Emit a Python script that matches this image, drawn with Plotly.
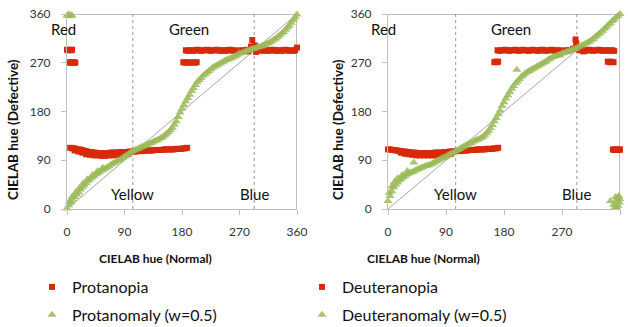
import plotly.graph_objects as go

# ---------------- data ----------------
TICKS = [0, 90, 180, 270, 360]
YELLOW_L, BLUE_L = 103, 293
YELLOW_R, BLUE_R = 105, 293

# Left panel: Protanopia (red squares)
prot_x = [0, 2, 4, 6, 8,
          3, 5, 7, 9, 11, 13,
          5, 8, 11, 14, 17, 20, 23, 26, 29, 32, 35, 38, 41, 44, 47, 50, 53, 56, 59, 62, 65, 68, 71, 74, 77, 80,
          83, 86, 89, 92, 95, 98, 101, 104, 107, 110, 113, 116, 119, 122, 125, 128, 131, 134, 137, 140, 143,
          146, 149, 152, 155, 158, 161, 164, 167, 170, 173, 176, 179, 182, 185, 188,
          12, 18, 24, 30, 36, 42, 48, 54, 60, 66, 72, 78, 84, 90, 96,
          182, 185, 188, 191, 197, 200, 203,
          186, 189, 192, 195, 198, 201, 204, 207, 210, 213, 216, 219, 222, 225, 228, 231, 234, 237, 240, 243,
          246, 249, 252, 255, 258, 261, 264, 273, 276, 279, 282, 303, 306, 309, 312, 315, 318, 321, 324, 327,
          330, 333, 336, 339, 342, 345, 348, 351, 354, 357, 360,
          284, 288, 290, 292, 294, 296, 298, 300]
prot_y = [294, 293, 294, 293, 294,
          271, 270, 271, 270, 271, 270,
          113, 112, 112, 111, 110, 110, 109, 108, 107, 106, 105, 105, 104, 104, 103, 103, 103, 103, 103, 103, 103,
          104, 104, 104, 104, 104, 105, 105, 105, 105, 105, 106, 106, 106, 106, 107, 107, 107, 107, 108, 108,
          108, 108, 108, 109, 109, 109, 109, 109, 110, 110, 110, 110, 110, 110, 111, 111, 111, 111, 112, 112, 113,
          108, 106, 104, 101, 100, 99, 99, 98, 98, 99, 99, 100, 100, 101, 102,
          271, 270, 271, 270, 271, 270, 271,
          293, 292, 293, 293, 292, 293, 294, 293, 292, 293, 293, 294, 293, 292, 293, 293, 294, 293, 292, 293,
          293, 292, 293, 294, 293, 292, 293, 293, 292, 293, 294, 293, 292, 293, 293, 292, 293, 294, 293,
          292, 293, 293, 292, 293, 294, 293, 292, 293, 292, 293,
          298, 291, 300, 312, 296, 302, 290, 297]

# Left panel: Protanomaly w=0.5 (green triangles)
pana_x = [0, 3, 6, 9, 12, 15, 18, 21, 24, 27, 30, 33, 36, 39, 42, 45, 48, 51, 54, 57, 60, 63, 66, 69, 72, 75,
          78, 81, 84, 87, 90, 93, 96, 99, 102, 105, 108, 111, 114, 117, 120, 123, 126, 129, 132, 135, 138, 141,
          144, 147, 150, 153, 156, 159, 162, 165, 168, 171, 174, 177, 180, 183, 186, 189, 192, 195, 198, 201,
          204, 207, 210, 213, 216, 219, 222, 225, 228, 231, 234, 237, 240, 243, 246, 249, 252, 255, 258, 261,
          264, 267, 270, 273, 276, 279, 282, 285, 288, 291, 294, 297, 300, 303, 306, 309, 312, 315, 318, 321,
          324, 327, 330, 333, 336, 339, 342, 345, 348, 351, 354, 357, 360,
          4, 8, 13, 19, 25, 32, 40, 48, 56,
          0, 2, 4, 6, 8]
pana_y = [1, 7, 12, 17, 22, 27, 31, 36, 40, 44, 48, 52, 55, 58, 61, 64, 66, 69, 71, 73, 75, 77, 79, 82, 84, 86,
          88, 90, 92, 94, 97, 99, 101, 104, 106, 108, 110, 111, 113, 115, 116, 118, 119, 121, 122, 124, 126, 127,
          129, 131, 133, 136, 139, 142, 146, 150, 156, 162, 170, 178, 185, 192, 199, 205, 211, 218, 223, 229,
          234, 238, 242, 246, 249, 252, 255, 258, 261, 263, 265, 267, 269, 271, 273, 275, 276, 278, 279, 281,
          283, 285, 287, 288, 289, 291, 292, 293, 295, 296, 297, 298, 299, 300, 301, 303, 305, 306, 308, 310,
          313, 315, 318, 321, 324, 327, 331, 335, 339, 344, 349, 354, 359,
          14, 22, 30, 38, 47, 55, 63, 70, 76,
          357, 359, 356, 358, 357]

# Right panel: Deuteranopia (red squares)
deut_x = [0, 3, 6, 9, 12, 15, 18, 21, 24, 27, 30, 33, 36, 39, 42, 45, 48, 51, 54, 57, 60, 63, 66, 69, 72, 75,
          78, 81, 84, 87, 90, 93, 96, 99, 102, 105, 108, 111, 114, 117, 120, 123, 126, 129, 132, 135, 138, 141,
          144, 147, 150, 153, 156, 159, 162, 165, 168, 171,
          20, 26, 32, 38, 44, 50, 56, 62, 68, 74, 80, 86, 92, 98,
          165, 167, 169, 171,
          170, 173, 176, 179, 182, 185, 188, 191, 194, 197, 200, 203, 206, 209, 212, 215, 218, 221, 224, 227,
          230, 233, 236, 239, 242, 245, 248, 251, 254, 257, 260, 263, 266, 275, 278, 281, 303, 306, 309, 312,
          315, 318, 321, 324, 327, 330, 333, 336, 339, 342, 345, 348, 351,
          291, 292, 295, 297, 300, 303, 287,
          341, 344, 347, 350,
          349, 351, 353, 355, 357, 359, 360]
deut_y = [110, 110, 109, 109, 108, 108, 107, 107, 106, 106, 105, 105, 104, 104, 104, 103, 103, 103, 103, 103,
          103, 103, 103, 103, 104, 104, 104, 104, 104, 105, 105, 105, 106, 106, 106, 107, 107, 107, 108, 108,
          108, 108, 109, 109, 109, 109, 110, 110, 110, 110, 110, 111, 111, 111, 111, 112, 112, 113,
          104, 102, 101, 100, 99, 99, 99, 99, 99, 99, 100, 100, 101, 102,
          271, 272, 271, 272,
          293, 292, 293, 293, 294, 293, 292, 293, 293, 294, 293, 292, 293, 294, 293, 293, 292, 293, 294, 293,
          293, 292, 293, 294, 293, 292, 293, 293, 294, 293, 292, 293, 293, 293, 292, 293, 293, 292, 293, 294,
          293, 292, 293, 293, 294, 293, 292, 293, 293, 292, 293, 293, 292,
          313, 306, 298, 293, 297, 291, 296,
          272, 271, 272, 271,
          110, 109, 110, 109, 110, 109, 110]

# Right panel: Deuteranomaly w=0.5 (green triangles)
dana_x = [0, 3, 6, 9, 12, 15, 18, 21, 24, 27, 30, 33, 36, 39, 42, 45, 48, 51, 54, 57, 60, 63, 66, 69, 72, 75,
          78, 81, 84, 87, 90, 93, 96, 99, 102, 105, 108, 111, 114, 117, 120, 123, 126, 129, 132, 135, 138, 141,
          144, 147, 150, 153, 156, 159, 162, 165, 168, 171, 174, 177, 180, 183, 186, 189, 192, 195, 198, 201,
          204, 207, 210, 213, 216, 219, 222, 225, 228, 231, 234, 237, 240, 243, 246, 249, 252, 255, 258, 261,
          264, 267, 270, 273, 276, 279, 282, 285, 288, 291, 294, 297, 300, 303, 306, 309, 312, 315, 318, 321,
          324, 327, 330, 333, 336, 339, 342, 345, 348, 351, 354, 357, 360,
          2, 6, 10, 15, 22, 30,
          200, 40, 345, 265,
          350, 352, 354, 356, 358, 360, 357, 359, 353, 355]
dana_y = [15, 24, 33, 40, 45, 49, 53, 56, 59, 62, 64, 66, 68, 69, 71, 73, 74, 76, 77, 79, 80, 81, 82, 84, 86, 88,
          90, 92, 94, 95, 97, 99, 101, 103, 105, 107, 109, 111, 113, 115, 117, 119, 121, 122, 124, 126, 128, 129,
          131, 133, 136, 140, 144, 149, 155, 162, 168, 175, 182, 190, 197, 204, 210, 216, 222, 227, 232, 236,
          240, 244, 247, 250, 253, 255, 257, 259, 261, 263, 265, 267, 269, 271, 273, 276, 278, 280, 281, 283,
          284, 285, 287, 288, 290, 291, 292, 294, 295, 296, 298, 300, 302, 303, 305, 307, 309, 311, 314, 317,
          320, 323, 326, 329, 333, 336, 340, 343, 347, 350, 354, 357, 360,
          30, 42, 50, 57, 63, 70,
          257, 86, 15, 284,
          8, 3, 14, 20, 24, 18, 6, 12, 22, 2]

RED = "#D8290B"
GREEN = "#9BBB59"
FONT = "Lato"

fig = go.Figure()

def add_panel(xa, ya, rx, ry, rname, gx, gy, gname, legend):
    fig.add_trace(go.Scatter(x=rx, y=ry, mode="markers", name=rname, xaxis=xa, yaxis=ya,
                             marker=dict(symbol="square", size=6, color=RED), cliponaxis=False,
                             legend=legend, legendgroup=rname))
    fig.add_trace(go.Scatter(x=gx, y=gy, mode="markers", name=gname, xaxis=xa, yaxis=ya,
                             marker=dict(symbol="triangle-up", size=8, color=GREEN, opacity=0.85),
                             cliponaxis=False, legend=legend, legendgroup=gname))

add_panel("x", "y", prot_x, prot_y, "Protanopia", pana_x, pana_y, "Protanomaly (w=0.5)", "legend")
add_panel("x2", "y2", deut_x, deut_y, "Deuteranopia", dana_x, dana_y, "Deuteranomaly (w=0.5)", "legend2")

W, H = 628, 327
def px(x): return x / W
def py(y): return 1 - y / H

axis_common = dict(range=[0, 360], tickvals=TICKS, showgrid=False, zeroline=False, showline=True,
                   linecolor="#BFBFBF", linewidth=1, ticks="outside", ticklen=5, tickcolor="#BFBFBF",
                   tickfont=dict(family=FONT, size=12, color="#333333"), fixedrange=True,
                   automargin=False)

fig.update_layout(
    width=W, height=H, margin=dict(l=0, r=0, t=0, b=0, autoexpand=False),
    paper_bgcolor="white", plot_bgcolor="white",
    xaxis=dict(domain=[px(67), px(297)], anchor="y", ticklabelstandoff=7, **axis_common),
    yaxis=dict(domain=[py(209), py(14)], anchor="x", ticklabelstandoff=8, **axis_common),
    xaxis2=dict(domain=[px(388), px(620)], anchor="y2", ticklabelstandoff=7, **axis_common),
    yaxis2=dict(domain=[py(209), py(14)], anchor="x2", ticklabelstandoff=8, **axis_common),
    legend=dict(x=px(32), y=py(270), xanchor="left", yanchor="top", bgcolor="rgba(0,0,0,0)",
                font=dict(family=FONT, size=16, color="#111111"), itemwidth=30, tracegroupgap=4),
    legend2=dict(x=px(302), y=py(270), xanchor="left", yanchor="top", bgcolor="rgba(0,0,0,0)",
                 font=dict(family=FONT, size=16, color="#111111"), itemwidth=30, tracegroupgap=4),
)

shapes = []
for xa, ya, yl, bl in [("x", "y", YELLOW_L, BLUE_L), ("x2", "y2", YELLOW_R, BLUE_R)]:
    shapes.append(dict(type="line", xref=xa, yref=ya, x0=0, y0=0, x1=360, y1=360,
                       line=dict(color="#A6A6A6", width=1), layer="below"))
    for v in (yl, bl):
        shapes.append(dict(type="line", xref=xa, yref=ya, x0=v, y0=0, x1=v, y1=360,
                           line=dict(color="#999999", width=1, dash="dot"), layer="below"))
    shapes.append(dict(type="line", xref=xa, yref=ya, x0=0, y0=360, x1=360, y1=360,
                       line=dict(color="#7F7F7F", width=1), layer="below"))
    shapes.append(dict(type="line", xref=xa, yref=ya, x0=360, y0=0, x1=360, y1=360,
                       line=dict(color="#7F7F7F", width=1), layer="below"))
fig.update_layout(shapes=shapes)

ann = []
for xa, ya, yl, bl in [("x", "y", YELLOW_L, BLUE_L), ("x2", "y2", YELLOW_R, BLUE_R)]:
    for text, x, y in [("Green", 191, 332), ("Yellow", yl, 27), ("Blue", bl, 27)]:
        ann.append(dict(text=text, x=x, y=y, xref=xa, yref=ya, showarrow=False,
                        font=dict(family=FONT, size=15, color="#111111")))
for xp in (63, 383):
    ann.append(dict(text="Red", x=px(xp), y=py(29), xref="paper", yref="paper", showarrow=False,
                    xanchor="center", yanchor="middle", font=dict(family=FONT, size=15, color="#111111")))
for xp, yp in [(13, 130), (338, 130)]:
    ann.append(dict(text="<b>CIELAB hue (Defective)</b>", x=px(xp), y=py(yp), xref="paper", yref="paper",
                    showarrow=False, textangle=-90, xanchor="center", yanchor="middle",
                    font=dict(family=FONT, size=13.5, color="#111111")))
for xp, yp in [(155, 258), (423, 258)]:
    ann.append(dict(text="<b>CIELAB hue (Normal)</b>", x=px(xp), y=py(yp), xref="paper", yref="paper",
                    showarrow=False, xanchor="center", yanchor="middle",
                    font=dict(family=FONT, size=12, color="#111111")))
fig.update_layout(annotations=ann)

fig.write_html("out.html", config={"displayModeBar": False},
               post_script="document.body.style.margin='0';document.body.style.overflow='hidden';")
